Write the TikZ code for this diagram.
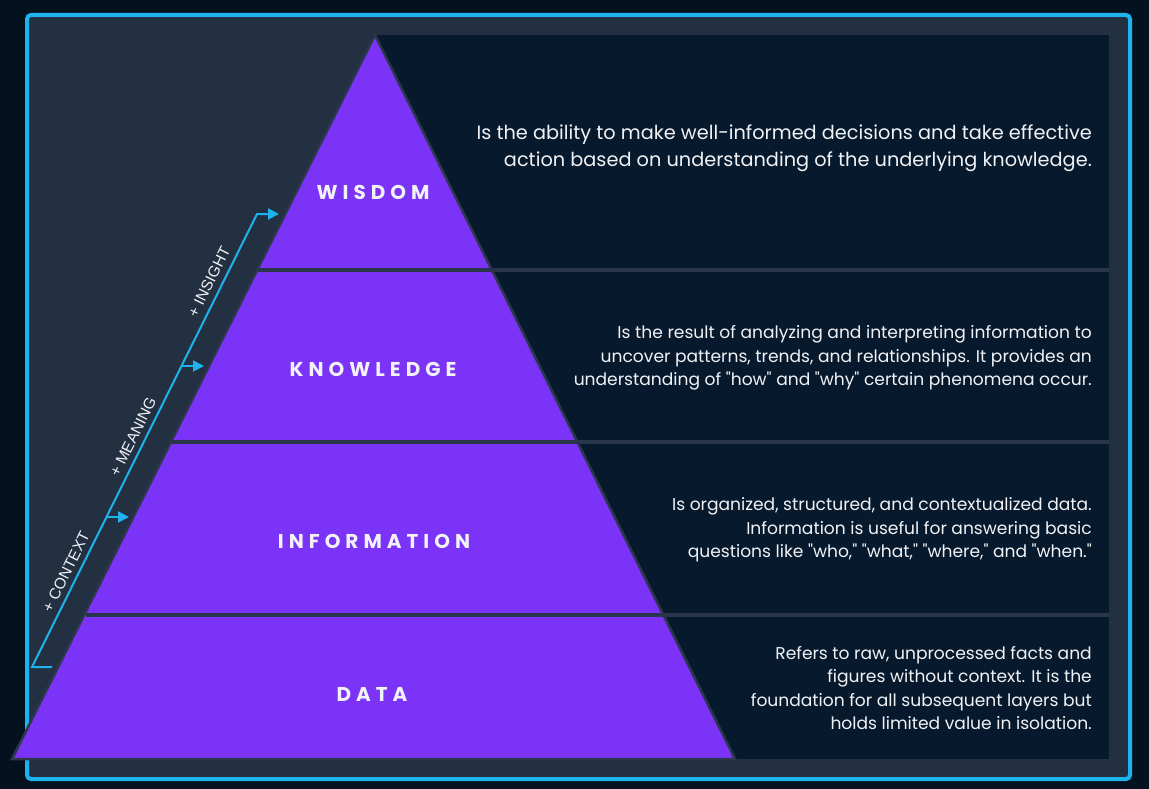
\documentclass[tikz,border=0pt]{standalone}
\usepackage{fontspec}
\setmainfont{Poppins}
\newfontfamily\descfont{Poppins}
\newfontfamily\titlefont[LetterSpace=25]{Poppins}
\newfontfamily\labfont{Liberation Sans}
\usetikzlibrary{arrows.meta,calc}
\definecolor{outerbg}{HTML}{04121F}
\definecolor{slate}{HTML}{233042}
\definecolor{panel}{HTML}{07192C}
\definecolor{cyanline}{HTML}{1FB3EE}
\definecolor{violet}{HTML}{7A33F7}
\definecolor{edgegrey}{HTML}{2C384A}
\definecolor{sepgrey}{HTML}{29354A}
\definecolor{softwhite}{HTML}{F1F2F6}
\tikzset{
  desc/.style={text=softwhite, align=right, anchor=east, inner sep=0pt, font=\descfont\fontsize{17.1}{23.6}\selectfont},
  bigdesc/.style={desc, font=\descfont\fontsize{19.3}{27}\selectfont},
  layertitle/.style={text=softwhite, inner sep=0pt, font=\titlefont\bfseries\fontsize{20}{24}\selectfont},
  steplab/.style={text=softwhite, inner sep=0pt, rotate=63.6, font=\labfont\fontsize{15.5}{18}\selectfont},
  flow/.style={draw=cyanline, line width=2pt, line join=miter},
  flowarrow/.style={flow, -{Triangle[length=11pt,width=11pt]}},
  seprule/.style={draw=sepgrey, line width=4pt},
}
\begin{document}
\begin{tikzpicture}[x=1pt,y=-1pt]
\fill[outerbg] (0,0) rectangle (1149,789);
\useasboundingbox (0,0) rectangle (1149,789);
% frame
\draw[cyanline, line width=4pt, fill=slate, rounded corners=4pt] (27,15) rectangle (1130,779);
% dark panel
\fill[panel] (375,35) rectangle (1109,759);
% pyramid
\coordinate (apex) at (375,35);
\coordinate (bl) at (12,759);
\coordinate (br) at (735,759);
\filldraw[fill=violet, draw=edgegrey, line width=2.5pt, line join=miter] (apex) -- (br) -- (bl) -- cycle;
% separators
\coordinate (s1l) at (257.8,270); \coordinate (s1r) at (1109,270);
\coordinate (s2l) at (172.1,442); \coordinate (s2r) at (1109,442);
\coordinate (s3l) at (85.8,615);  \coordinate (s3r) at (1109,615);
\draw[seprule] (s1l) -- (s1r);
\draw[seprule] (s2l) -- (s2r);
\draw[seprule] (s3l) -- (s3r);
% titles
\node[layertitle] (wisdom) at (373,192) {WISDOM};
\node[layertitle] (knowledge) at (373,369) {KNOWLEDGE};
\node[layertitle] (information) at (374,541) {INFORMATION};
\node[layertitle] (data) at (372,694) {DATA};
% descriptions
\node[bigdesc] (dwisdom) at (1092,148) {Is the ability to make well-informed decisions and take effective\\action based on understanding of the underlying knowledge.};
\node[desc] (dknowledge) at (1092,358) {Is the result of analyzing and interpreting information to\\uncover patterns, trends, and relationships. It provides an\\understanding of "how" and "why" certain phenomena occur.};
\node[desc] (dinformation) at (1092,530) {Is organized, structured, and contextualized data.\\Information is useful for answering basic\\questions like "who," "what," "where," and "when."};
\node[desc] (ddata) at (1092,688) {Refers to raw, unprocessed facts and\\figures without context. It is the\\foundation for all subsequent layers but\\holds limited value in isolation.};
% flow arrows
\coordinate (f0) at (52,667);
\coordinate (f1) at (32,667);
\coordinate (f2) at (106.6,517);
\coordinate (f3) at (181.7,366);
\coordinate (f4) at (257,214);
\coordinate (t1) at (129,517);
\coordinate (t2) at (204,366);
\coordinate (t3) at (279,214);
\draw[flowarrow] (f0) -- (f1) -- (f4) -- (t3);
\draw[flowarrow] (f2) -- (t1);
\draw[flowarrow] (f3) -- (t2);
% step labels
\node[steplab] (lcontext) at (66,572) {+ CONTEXT};
\node[steplab] (lmeaning) at (133,437) {+ MEANING};
\node[steplab] (linsight) at (209,282) {+ INSIGHT};
\end{tikzpicture}
\end{document}
